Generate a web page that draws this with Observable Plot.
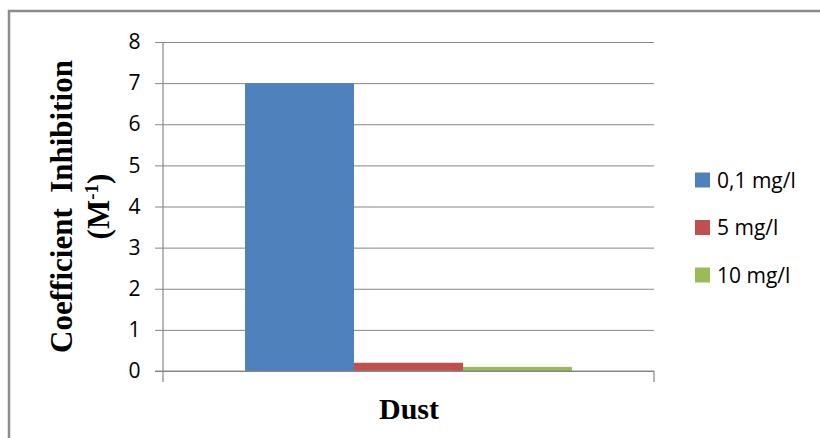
<!DOCTYPE html>
<html><head><meta charset="utf-8">
<script src="https://cdn.jsdelivr.net/npm/d3@7"></script>
<script src="https://cdn.jsdelivr.net/npm/@observablehq/plot@0.6"></script>
<style>body{margin:0;background:#fff;overflow:hidden}</style>
</head><body><div id="chart"></div>
<script>
const categories = ["Dust"];
const series = ["0,1 mg/l", "5 mg/l", "10 mg/l"];
const values = [7, 0.2, 0.1];
const colors = ["#4F81BD", "#C0504D", "#9BBB59"];
const yTicks = [0, 1, 2, 3, 4, 5, 6, 7, 8];
const yLabel = ["Coefficient  Inhibition", "(M", "-1", ")"];

const data = series.map((s, i) => ({category: categories[0], series: s, value: values[i]}));

const W = 820, H = 438, mL = 163, mR = 166, mT = 42, mB = 67;
const gray = "#868686";
const tickFont = "'Open Sans', sans-serif";
const serif = "'Liberation Serif', 'Times New Roman', serif";

const chart = Plot.plot({
  width: W, height: H,
  marginLeft: mL, marginRight: mR, marginTop: mT, marginBottom: mB,
  style: {background: "transparent", fontFamily: tickFont, color: "#000"},
  fx: {domain: categories, padding: 0, label: null, axis: null},
  x: {domain: series, padding: 0, paddingOuter: 0.75, axis: null},
  y: {domain: [0, 8], label: null},
  color: {domain: series, range: colors},
  marks: [
    Plot.gridY(yTicks, {stroke: gray, strokeOpacity: 1, strokeWidth: 1}),
    Plot.axisY(yTicks, {tickSize: 8, tickPadding: 15, fontSize: 21, stroke: gray, fill: "#000", label: null, fontFamily: tickFont}),
    Plot.barY(data, {fx: "category", x: "series", y: "value", fill: "series"}),
    Plot.axisFx({anchor: "bottom", tickSize: 0, tickPadding: 26, fontSize: 30, fontWeight: "bold", fontFamily: serif, fill: "#000", label: null})
  ]
});

const svg = d3.select(chart);
const y = chart.scale("y");
const y0 = y.apply(0), y8 = y.apply(8);
const xL = mL, xR = W - mR;

// border
svg.insert("rect", ":first-child")
  .attr("x", 9).attr("y", 11).attr("width", W + 20).attr("height", H + 20)
  .attr("fill", "#fff").attr("stroke", "#8c8c8c").attr("stroke-width", 2.5);

const axes = svg.append("g").attr("stroke", gray).attr("stroke-width", 1.2).attr("fill", "none");
axes.append("line").attr("x1", xL).attr("x2", xL).attr("y1", y8).attr("y2", y0 + 11);
axes.append("line").attr("x1", xL - 8).attr("x2", xR).attr("y1", y0).attr("y2", y0);
axes.append("line").attr("x1", xR).attr("x2", xR).attr("y1", y0).attr("y2", y0 + 11);

// y-axis title
const cy = (y0 + y8) / 2;
const t1 = svg.append("text")
  .attr("transform", `translate(72,${cy}) rotate(-90)`)
  .attr("text-anchor", "middle").attr("font-family", serif)
  .attr("font-weight", "bold").attr("font-size", 31).attr("fill", "#000")
  .style("white-space", "pre").attr("xml:space", "preserve")
  .text(yLabel[0]);
const t2 = svg.append("text")
  .attr("transform", `translate(109,${cy}) rotate(-90)`)
  .attr("text-anchor", "middle").attr("font-family", serif)
  .attr("font-weight", "bold").attr("font-size", 31).attr("fill", "#000");
t2.append("tspan").text(yLabel[1]);
t2.append("tspan").attr("font-size", 19).attr("dy", -11).text(yLabel[2]);
t2.append("tspan").attr("dy", 11).text(yLabel[3]);

// legend
const lg = svg.append("g").attr("font-family", tickFont).attr("font-size", 21).attr("text-anchor", "start");
series.forEach((s, i) => {
  const cyL = 180 + i * 47.5;
  lg.append("rect").attr("x", 695).attr("y", cyL - 7.5).attr("width", 15).attr("height", 15).attr("fill", colors[i]);
  lg.append("text").attr("x", 717).attr("y", cyL).attr("dy", "0.36em").attr("fill", "#000").attr("text-anchor", "start").text(s);
});

document.getElementById("chart").appendChild(chart);
</script>
</body></html>
